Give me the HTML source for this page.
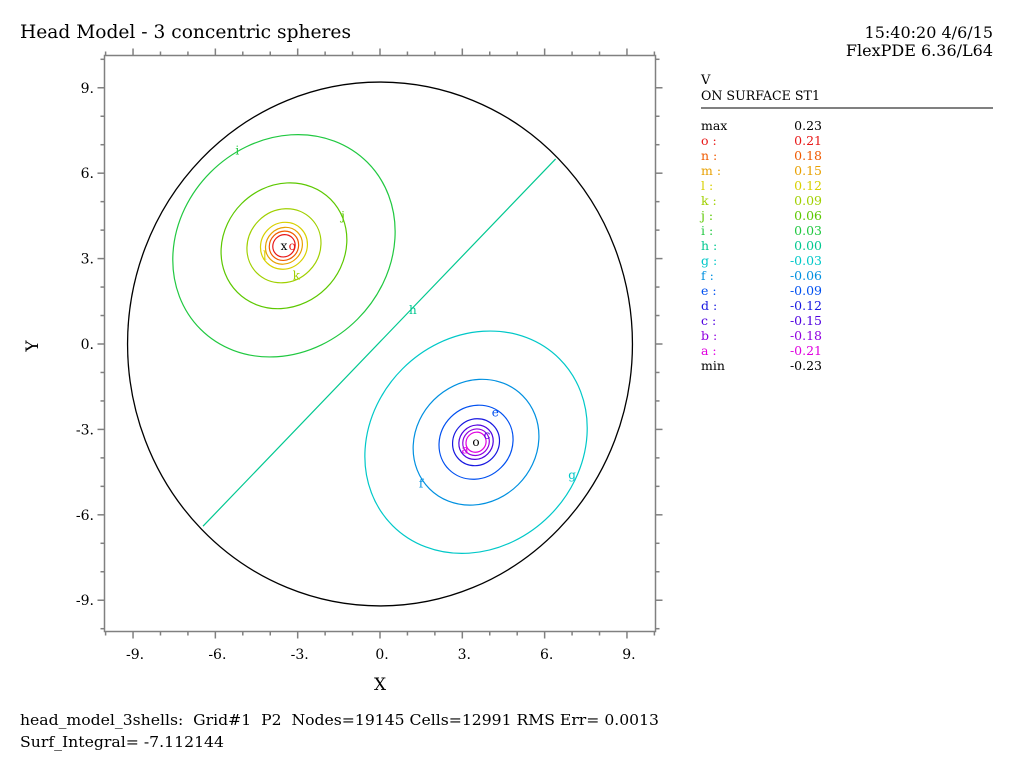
<!DOCTYPE html>
<html><head><meta charset="utf-8"><style>
html,body{margin:0;padding:0;background:#fff;}
svg{display:block;font-family:"DejaVu Serif","Liberation Serif",serif;}
text{white-space:pre;}
</style></head><body>
<svg id="chart" width="1024" height="768" xmlns="http://www.w3.org/2000/svg">
<text x="20" y="38" font-size="19" textLength="331" lengthAdjust="spacingAndGlyphs">Head Model - 3 concentric spheres</text>
<text x="993" y="38" font-size="16" text-anchor="end">15:40:20 4/6/15</text>
<text x="993" y="56" font-size="16" text-anchor="end">FlexPDE 6.36/L64</text>
<text x="701" y="84" font-size="13">V</text>
<text x="701" y="100" font-size="13" textLength="119" lengthAdjust="spacingAndGlyphs">ON SURFACE ST1</text>
<line x1="701" y1="108" x2="993" y2="108" stroke="#000" stroke-width="1"/>
<text x="380" y="690" font-size="17" text-anchor="middle">X</text>
<text x="38" y="346" font-size="17" text-anchor="middle" transform="rotate(-90 38 346)">Y</text>
<text x="20" y="725" font-size="15" textLength="639" lengthAdjust="spacingAndGlyphs">head_model_3shells:  Grid#1  P2  Nodes=19145 Cells=12991 RMS Err= 0.0013</text>
<text x="20" y="747" font-size="15" textLength="204" lengthAdjust="spacingAndGlyphs">Surf_Integral= -7.112144</text>
<g id="plot"></g>
<g id="legend"></g>
</svg>
<script>
const levelNames = ['o','n','m','l','k','j','i','h','g','f','e','d','c','b','a'];
const levelValues = [0.21,0.18,0.15,0.12,0.09,0.06,0.03,0.00,-0.03,-0.06,-0.09,-0.12,-0.15,-0.18,-0.21];
const levelColors = ['#e81818','#f05a00','#e8a000','#d8d000','#a0d000','#5cc800','#20c840','#00c890','#00c8c8','#0090e0','#0050f0','#1818e0','#5000e0','#9000e0','#e000e0'];
const posCenter = [-3.5, 3.45];
const negCenter = [3.5, -3.45];
const posMajor = [0.42,0.55,0.7,0.88,1.4,2.4,4.3];
const posMinor = [0.38,0.5,0.62,0.8,1.25,2.1,3.65];
const negMajor = [4.3,2.4,1.4,0.88,0.65,0.5,0.38];
const negMinor = [3.65,2.1,1.25,0.8,0.58,0.45,0.34];
const zeroLine = [[-6.45,-6.4],[6.4,6.5]];
const boundaryRadius = 9.2;
const xTicks = [-9,-6,-3,0,3,6,9];
const yTicks = [-9,-6,-3,0,3,6,9];
const maxVal = '0.23', minVal = '-0.23';

const NS='http://www.w3.org/2000/svg';
const X = v => 380 + v*27.44;
const Y = v => 344 - v*28.47;
const plot = document.getElementById('plot');
function mk(tag, attrs, parent){const e=document.createElementNS(NS,tag);for(const k in attrs)e.setAttribute(k,attrs[k]);(parent||plot).appendChild(e);return e;}

const frame = mk('rect',{x:104.5,y:55.5,width:551,height:576,fill:'none',stroke:'#808080','stroke-width':1.5});


for(let v=-10; v<=10; v++){
  const major = v%3===0;
  const len = major?7:4;
  const tx=X(v), ty=Y(v);
  const segs=[[tx,631.5,tx,631.5+len],[tx,55.5,tx,55.5-len]];
  if(ty>56 && ty<631){segs.push([104.5,ty,104.5-len,ty]);segs.push([655.5,ty,655.5+len,ty]);}
  segs.forEach(s=>{
    const t=mk('line',{x1:s[0],y1:s[1],x2:s[2],y2:s[3],stroke:'#808080','stroke-width':1.5});
    
    
  });
}
xTicks.forEach(v=>{
  const t=mk('text',{x:X(v)+2,y:659,'font-size':14,'text-anchor':'middle'});t.textContent=v+'.';
  
  
});
yTicks.forEach(v=>{
  const t=mk('text',{x:94,y:Y(v)+5,'font-size':14,'text-anchor':'end'});t.textContent=v+'.';
  
  
});
const b=mk('ellipse',{cx:X(0),cy:Y(0),rx:boundaryRadius*27.44,ry:boundaryRadius*28.47,fill:'none',stroke:'#000','stroke-width':1.3});


function ring(c,a,bb,color,name){
  const e=mk('ellipse',{cx:X(c[0]),cy:Y(c[1]),rx:a*27.44,ry:bb*28.47,fill:'none',stroke:color,'stroke-width':1.2,transform:`rotate(-45 ${X(c[0])} ${Y(c[1])})`});
  
  
}
posMajor.forEach((a,i)=>ring(posCenter,a,posMinor[i],levelColors[i],'contour-'+levelNames[i]));
negMajor.forEach((a,i)=>ring(negCenter,a,negMinor[i],levelColors[8+i],'contour-'+levelNames[8+i]));
const zl=mk('line',{x1:X(zeroLine[0][0]),y1:Y(zeroLine[0][1]),x2:X(zeroLine[1][0]),y2:Y(zeroLine[1][1]),stroke:levelColors[7],'stroke-width':1.2});


[[posCenter,'x'],[negCenter,'o']].forEach(m=>{
  const t=mk('text',{x:X(m[0][0]),y:Y(m[0][1])+4,'font-size':12,'text-anchor':'middle'});t.textContent=m[1];
  
  
});
const labelPos=[['o',-3.2,3.45],['l',-4.2,3.1],['k',-3.05,2.4],['i',-5.2,6.8],['j',-1.35,4.5],['h',1.2,1.2],['e',4.2,-2.4],['c',3.9,-3.2],['a',3.1,-3.7],['f',1.5,-4.9],['g',7,-4.6]];
labelPos.forEach(l=>{
  const idx=levelNames.indexOf(l[0]);
  const t=mk('text',{x:X(l[1]),y:Y(l[2])+4,'font-size':12,fill:levelColors[idx],'text-anchor':'middle'});t.textContent=l[0];
  
  
});
const lg=document.getElementById('legend');
function row(y,name,val,color,dn){
  const a=mk('text',{x:701,y:y,'font-size':12.5,fill:color},lg);a.textContent=name;
  
  
  const v=mk('text',{x:822,y:y,'font-size':12.5,fill:color,'text-anchor':'end'},lg);v.textContent=val;
  
  
}
row(130,'max',maxVal,'#000','legend-max');
levelNames.forEach((n,i)=>row(145+i*15,n+' :',levelValues[i].toFixed(2),levelColors[i],'legend-entry-'+n));
row(145+15*15,'min',minVal,'#000','legend-min');
</script>
</body></html>
